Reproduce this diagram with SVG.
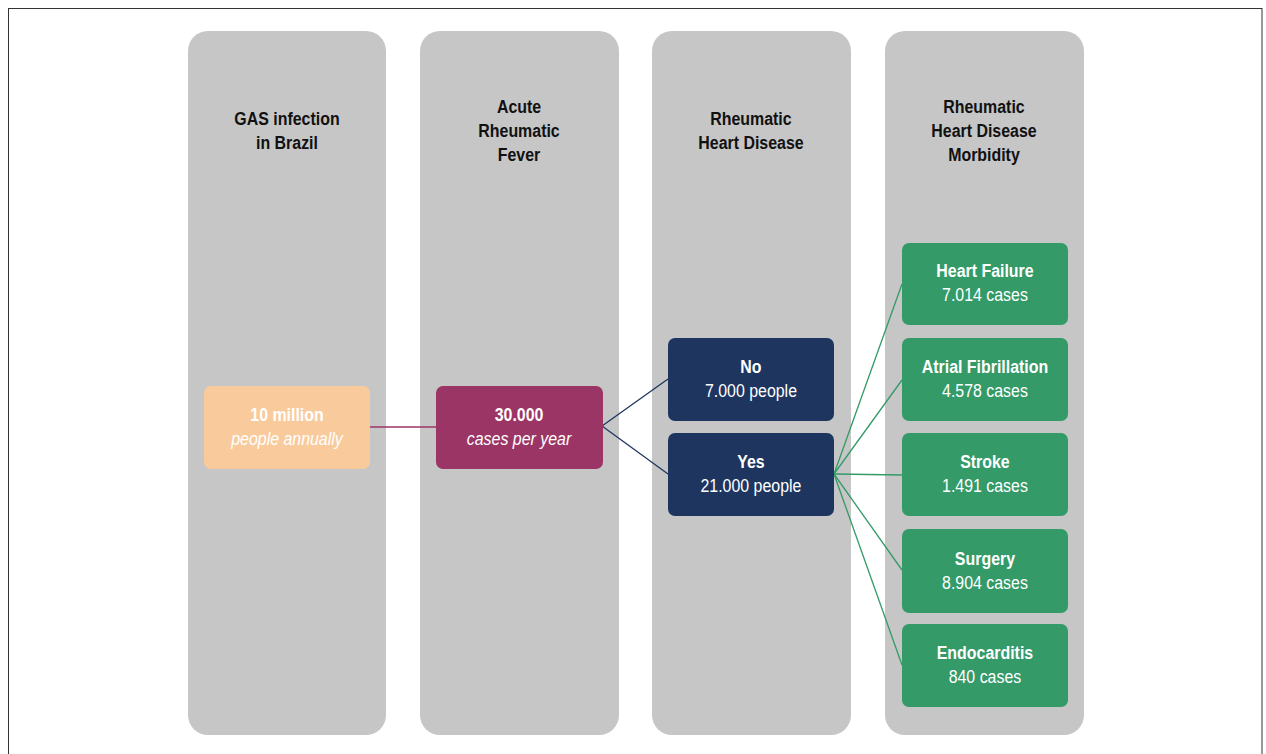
<svg xmlns="http://www.w3.org/2000/svg" width="1266" height="754" viewBox="0 0 1266 754">
<style>
.col{fill:#c6c6c6}
text{font-family:"Liberation Sans",Arial,sans-serif;font-size:17.7px;text-anchor:middle}
.hd{font-weight:bold;fill:#111}
.bx{fill:#fff}
.b{font-weight:bold}
.i{font-style:italic}
.or{fill:#f9cb9c}
.pu{fill:#9b3565}
.nv{fill:#1e355f}
.gr{fill:#339a68}
.cn{fill:none;stroke-width:1.3}
</style>
<rect x="0" y="0" width="1266" height="754" fill="#fff"/>
<rect x="8.5" y="8.5" width="1253.5" height="760" fill="none" stroke="#333" stroke-width="1"/>
<g id="col-gas">
<rect class="col" x="188" y="31" width="198" height="704" rx="20"/>
<text class="hd" transform="scale(0.9 1)" x="318.9" y="125">GAS infection</text>
<text class="hd" transform="scale(0.9 1)" x="318.9" y="149">in Brazil</text>
</g>
<g id="col-arf">
<rect class="col" x="420" y="31" width="199" height="704" rx="20"/>
<text class="hd" transform="scale(0.9 1)" x="576.7" y="113">Acute</text>
<text class="hd" transform="scale(0.9 1)" x="576.7" y="137">Rheumatic</text>
<text class="hd" transform="scale(0.9 1)" x="576.7" y="161">Fever</text>
</g>
<g id="col-rhd">
<rect class="col" x="652" y="31" width="199" height="704" rx="20"/>
<text class="hd" transform="scale(0.9 1)" x="834.4" y="125">Rheumatic</text>
<text class="hd" transform="scale(0.9 1)" x="834.4" y="149">Heart Disease</text>
</g>
<g id="col-morb">
<rect class="col" x="885" y="31" width="199" height="704" rx="20"/>
<text class="hd" transform="scale(0.9 1)" x="1093.3" y="113">Rheumatic</text>
<text class="hd" transform="scale(0.9 1)" x="1093.3" y="137">Heart Disease</text>
<text class="hd" transform="scale(0.9 1)" x="1093.3" y="161">Morbidity</text>
</g>
<g id="connectors">
<line class="cn" x1="370" y1="427" x2="436" y2="427" stroke="#9b3565"/>
<line class="cn" x1="602" y1="426" x2="668" y2="379" stroke="#1e355f"/>
<line class="cn" x1="602" y1="426" x2="668" y2="474" stroke="#1e355f"/>
<g stroke="#339a68">
<line class="cn" x1="834" y1="474" x2="902" y2="284"/>
<line class="cn" x1="834" y1="474" x2="902" y2="380"/>
<line class="cn" x1="834" y1="474" x2="902" y2="475"/>
<line class="cn" x1="834" y1="474" x2="902" y2="570"/>
<line class="cn" x1="834" y1="474" x2="902" y2="665"/>
</g>
</g>
<g id="node-gas">
<rect class="or" x="204" y="386" width="166" height="83" rx="7"/>
<text class="bx b" transform="scale(0.9 1)" x="318.9" y="421">10 million</text>
<text class="bx i" transform="scale(0.9 1)" x="318.9" y="445">people annually</text>
</g>
<g id="node-arf">
<rect class="pu" x="436" y="386" width="167" height="83" rx="7"/>
<text class="bx b" transform="scale(0.9 1)" x="576.7" y="421">30.000</text>
<text class="bx i" transform="scale(0.9 1)" x="576.7" y="445">cases per year</text>
</g>
<g id="node-no">
<rect class="nv" x="668" y="338" width="166" height="83" rx="7"/>
<text class="bx b" transform="scale(0.9 1)" x="834.4" y="373">No</text>
<text class="bx" transform="scale(0.9 1)" x="834.4" y="397">7.000 people</text>
</g>
<g id="node-yes">
<rect class="nv" x="668" y="433" width="166" height="83" rx="7"/>
<text class="bx b" transform="scale(0.9 1)" x="834.4" y="468">Yes</text>
<text class="bx" transform="scale(0.9 1)" x="834.4" y="492">21.000 people</text>
</g>
<g id="node-hf">
<rect class="gr" x="902" y="243" width="166" height="82" rx="7"/>
<text class="bx b" transform="scale(0.9 1)" x="1094.4" y="277.5">Heart Failure</text>
<text class="bx" transform="scale(0.9 1)" x="1094.4" y="301.5">7.014 cases</text>
</g>
<g id="node-af">
<rect class="gr" x="902" y="338" width="166" height="83" rx="7"/>
<text class="bx b" transform="scale(0.9 1)" x="1094.4" y="373">Atrial Fibrillation</text>
<text class="bx" transform="scale(0.9 1)" x="1094.4" y="397">4.578 cases</text>
</g>
<g id="node-stroke">
<rect class="gr" x="902" y="433" width="166" height="83" rx="7"/>
<text class="bx b" transform="scale(0.9 1)" x="1094.4" y="468">Stroke</text>
<text class="bx" transform="scale(0.9 1)" x="1094.4" y="492">1.491 cases</text>
</g>
<g id="node-surgery">
<rect class="gr" x="902" y="529" width="166" height="84" rx="7"/>
<text class="bx b" transform="scale(0.9 1)" x="1094.4" y="565">Surgery</text>
<text class="bx" transform="scale(0.9 1)" x="1094.4" y="589">8.904 cases</text>
</g>
<g id="node-endo">
<rect class="gr" x="902" y="624" width="166" height="83" rx="7"/>
<text class="bx b" transform="scale(0.9 1)" x="1094.4" y="659">Endocarditis</text>
<text class="bx" transform="scale(0.9 1)" x="1094.4" y="683">840 cases</text>
</g>
</svg>
